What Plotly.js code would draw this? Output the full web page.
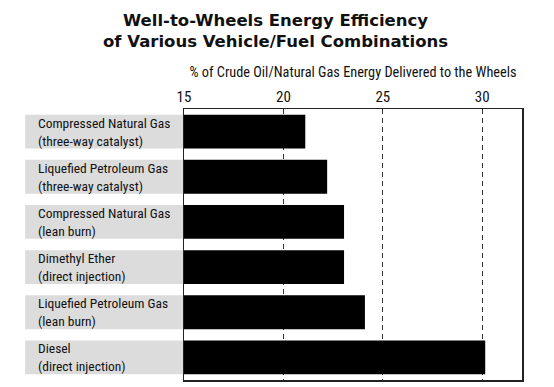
<!DOCTYPE html>
<html><head><meta charset="utf-8">
<script src="https://cdn.plot.ly/plotly-3.0.1.min.js"></script>
<style>html,body{margin:0;padding:0;background:#fff}#chart{width:554px;height:387px}</style>
</head><body><div id="chart"></div>
<script>
const categories = ["Compressed Natural Gas", "Liquefied Petroleum Gas", "Compressed Natural Gas", "Dimethyl Ether", "Liquefied Petroleum Gas", "Diesel"];
const subLabels = ["(three-way catalyst)", "(three-way catalyst)", "(lean burn)", "(direct injection)", "(lean burn)", "(direct injection)"];
const efficiency = [21.1, 22.2, 23.05, 23.05, 24.1, 30.15];
const tickValues = [15, 20, 25, 30];
const titleText = 'Well-to-Wheels Energy Efficiency<br>of Various Vehicle/Fuel Combinations';
const axisTitle = '% of Crude Oil/Natural Gas Energy Delivered to the Wheels';

const ids = categories.map((c, i) => "r" + i);
const narrow = '"Liberation Sans Narrow", "Arial Narrow", "Roboto Condensed", "Liberation Sans", sans-serif';

const shapes = ids.map((id, i) => ({
  type: 'rect', xref: 'paper', yref: 'y', x0: -0.47, x1: 0,
  y0: i - 0.375, y1: i + 0.375,
  fillcolor: '#dcdcdc', line: {width: 0}, layer: 'below'
}));
const annotations = ids.map((id, i) => ({
  xref: 'paper', yref: 'y', x: -0.438, y: id, xanchor: 'left', yanchor: 'middle', align: 'left',
  text: categories[i] + '<br>' + subLabels[i], showarrow: false,
  font: {family: narrow, size: 13.5, color: '#111'}
}));
annotations.push({
  xref: 'paper', yref: 'paper', x: 0.272, y: 1.37, xanchor: 'center', yanchor: 'top', align: 'center',
  text: titleText, showarrow: false,
  font: {family: '"DejaVu Sans", sans-serif', size: 16.5, color: '#111', weight: 'bold'}
});

Plotly.newPlot('chart', [{
  type: 'bar', orientation: 'h', x: efficiency.map(v => v - 15), y: ids, base: 15,
  marker: {color: '#000', line: {width: 0}}, width: 0.75, hoverinfo: 'skip'
}], {
  width: 554, height: 387,
  margin: {l: 184, r: 32, t: 109, b: 7},
  paper_bgcolor: '#fff', plot_bgcolor: '#fff',
  showlegend: false,
  xaxis: {
    side: 'top', range: [15, 32], tickvals: tickValues, ticktext: tickValues.map(String),
    showgrid: true, gridcolor: '#333', gridwidth: 1, griddash: '5px,4px',
    showline: true, linecolor: '#222', linewidth: 1.5, mirror: true,
    ticks: '', zeroline: false, fixedrange: true,
    tickfont: {family: narrow, size: 15, color: '#111'},
    title: {text: axisTitle, standoff: 6,
      font: {family: narrow, size: 14.3, color: '#111'}}
  },
  yaxis: {
    type: 'category', categoryorder: 'array', categoryarray: ids, autorange: 'reversed',
    showticklabels: false, ticks: '', showgrid: false,
    showline: true, linecolor: '#222', linewidth: 1.5, mirror: true, zeroline: false
  },
  shapes: shapes, annotations: annotations
}, {displayModeBar: false, staticPlot: true});
</script></body></html>
